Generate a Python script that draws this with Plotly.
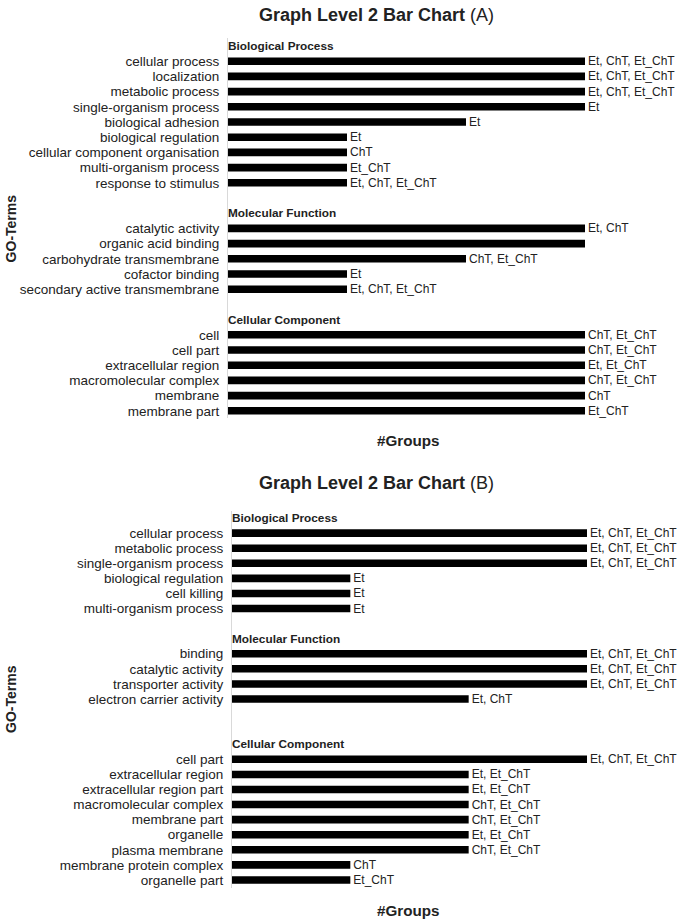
import plotly.graph_objects as go

# ---------------- Data ----------------
# Panel A
A_BP_terms = ["cellular process", "localization", "metabolic process", "single-organism process",
              "biological adhesion", "biological regulation", "cellular component organisation",
              "multi-organism process", "response to stimulus"]
A_BP_groups = [3, 3, 3, 3, 2, 1, 1, 1, 1]
A_BP_labels = ["Et, ChT, Et_ChT", "Et, ChT, Et_ChT", "Et, ChT, Et_ChT", "Et", "Et", "Et", "ChT",
               "Et_ChT", "Et, ChT, Et_ChT"]

A_MF_terms = ["catalytic activity", "organic acid binding", "carbohydrate transmembrane",
              "cofactor binding", "secondary active transmembrane"]
A_MF_groups = [3, 3, 2, 1, 1]
A_MF_labels = ["Et, ChT", "", "ChT, Et_ChT", "Et", "Et, ChT, Et_ChT"]

A_CC_terms = ["cell", "cell part", "extracellular region", "macromolecular complex", "membrane",
              "membrane part"]
A_CC_groups = [3, 3, 3, 3, 3, 3]
A_CC_labels = ["ChT, Et_ChT", "ChT, Et_ChT", "Et, Et_ChT", "ChT, Et_ChT", "ChT", "Et_ChT"]

# Panel B
B_BP_terms = ["cellular process", "metabolic process", "single-organism process",
              "biological regulation", "cell killing", "multi-organism process"]
B_BP_groups = [3, 3, 3, 1, 1, 1]
B_BP_labels = ["Et, ChT, Et_ChT", "Et, ChT, Et_ChT", "Et, ChT, Et_ChT", "Et", "Et", "Et"]

B_MF_terms = ["binding", "catalytic activity", "transporter activity", "electron carrier activity"]
B_MF_groups = [3, 3, 3, 2]
B_MF_labels = ["Et, ChT, Et_ChT", "Et, ChT, Et_ChT", "Et, ChT, Et_ChT", "Et, ChT"]

B_CC_terms = ["cell part", "extracellular region", "extracellular region part",
              "macromolecular complex", "membrane part", "organelle", "plasma membrane",
              "membrane protein complex", "organelle part"]
B_CC_groups = [3, 2, 2, 2, 2, 2, 2, 1, 1]
B_CC_labels = ["Et, ChT, Et_ChT", "Et, Et_ChT", "Et, Et_ChT", "ChT, Et_ChT", "ChT, Et_ChT",
               "Et, Et_ChT", "ChT, Et_ChT", "ChT", "Et_ChT"]

section_names = ["Biological Process", "Molecular Function", "Cellular Component"]

panels = [
    dict(title="<b>Graph Level 2 Bar Chart</b> (A)",
         sections=[(A_BP_terms, A_BP_groups, A_BP_labels),
                   (A_MF_terms, A_MF_groups, A_MF_labels),
                   (A_CC_terms, A_CC_groups, A_CC_labels)],
         gaps=[0, 1, 1]),
    dict(title="<b>Graph Level 2 Bar Chart</b> (B)",
         sections=[(B_BP_terms, B_BP_groups, B_BP_labels),
                   (B_MF_terms, B_MF_groups, B_MF_labels),
                   (B_CC_terms, B_CC_groups, B_CC_labels)],
         gaps=[0, 1, 2]),
]

# ---------------- Layout geometry (pixels) ----------------
W, H = 678, 919
geom = [
    dict(x0=228, x1=585, y0=38.4, y1=418.4, title_x=376, title_y=15, xlab_y=440),
    dict(x0=232, x1=587, y0=510.5, y1=887.5, title_x=376, title_y=483, xlab_y=910),
]

FONT = "Liberation Sans, Arial, sans-serif"
fig = go.Figure()
annotations = []
layout_axes = {}

for i, (p, g) in enumerate(zip(panels, geom)):
    xa = "x" if i == 0 else f"x{i+1}"
    ya = "y" if i == 0 else f"y{i+1}"
    ys, xs, txt, tickvals, ticktext = [], [], [], [], []
    row = 0
    header_rows = []
    for (terms, groups, labels), gap, name in zip(p["sections"], p["gaps"], section_names):
        row += gap
        header_rows.append((row, name))
        row += 1
        for t, v, l in zip(terms, groups, labels):
            ys.append(row)
            xs.append(v)
            txt.append(l)
            tickvals.append(row)
            ticktext.append(t)
            row += 1
    nrows = row

    fig.add_trace(go.Bar(
        x=xs, y=ys, orientation="h", xaxis=xa, yaxis=ya,
        marker=dict(color="black", line=dict(width=0)), width=0.5,
        text=txt, textposition="outside", cliponaxis=False, constraintext="none",
        textfont=dict(family=FONT, size=12, color="#222"),
        showlegend=False, hoverinfo="skip"))

    for r, name in header_rows:
        annotations.append(dict(
            x=0, y=r, xref=xa, yref=ya, text=f"<b>{name}</b>", showarrow=False,
            xanchor="left", yanchor="middle", xshift=-2,
            font=dict(family=FONT, size=11.8, color="#222")))

    xd = [g["x0"] / W, g["x1"] / W]
    yd = [1 - g["y1"] / H, 1 - g["y0"] / H]
    layout_axes["xaxis" if i == 0 else f"xaxis{i+1}"] = dict(
        domain=xd, range=[0, 3], showgrid=False, zeroline=False, showticklabels=False,
        showline=False, anchor=ya, fixedrange=True)
    layout_axes["yaxis" if i == 0 else f"yaxis{i+1}"] = dict(
        domain=yd, range=[nrows - 0.5, -0.5], showgrid=False, zeroline=False,
        tickvals=tickvals, ticktext=ticktext, ticks="", showline=True,
        linecolor="#d9d9d9", linewidth=1, anchor=xa, automargin=False,
        ticklabelstandoff=5,
        tickfont=dict(family=FONT, size=13.5, color="#222"))

    # titles
    annotations.append(dict(
        x=g["title_x"] / W, y=1 - g["title_y"] / H, xref="paper", yref="paper", text=p["title"],
        showarrow=False, xanchor="center", yanchor="middle",
        font=dict(family=FONT, size=18, color="#222")))
    annotations.append(dict(
        x=408 / W, y=1 - g["xlab_y"] / H, xref="paper", yref="paper", text="<b>#Groups</b>",
        showarrow=False, xanchor="center", yanchor="middle",
        font=dict(family=FONT, size=15.2, color="#222")))
    annotations.append(dict(
        x=11 / W, y=1 - ((g["y0"] + g["y1"]) / 2) / H, xref="paper", yref="paper",
        text="<b>GO-Terms</b>", textangle=-90, showarrow=False, xanchor="center",
        yanchor="middle", font=dict(family=FONT, size=14, color="#222")))

fig.update_layout(
    width=W, height=H, margin=dict(l=0, r=0, t=0, b=0),
    paper_bgcolor="white", plot_bgcolor="white",
    annotations=annotations, **layout_axes)

fig.write_html("out.html", config={"displayModeBar": False},
               post_script="document.body.style.margin='0px';document.body.style.overflow='hidden';")
